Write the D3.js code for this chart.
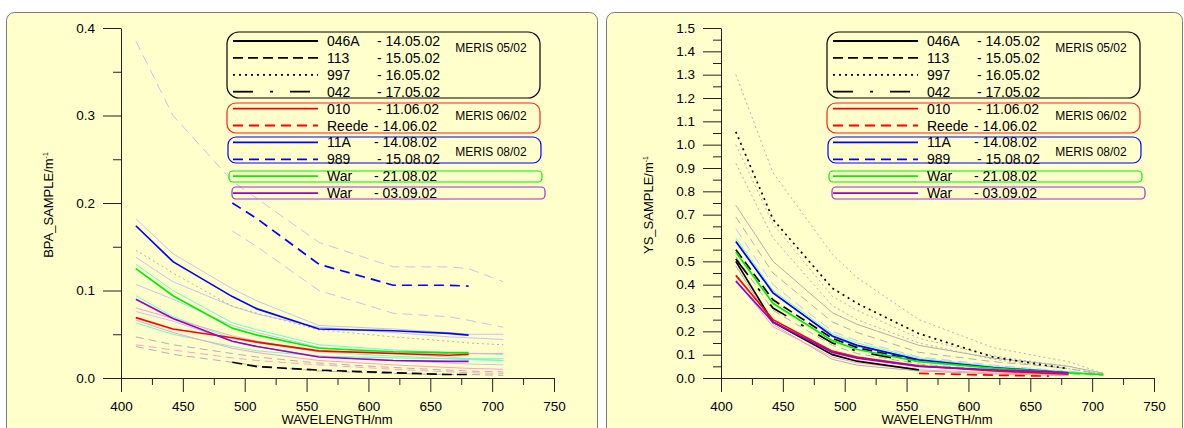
<!DOCTYPE html>
<meta charset="utf-8">
<script src="https://d3js.org/d3.v7.min.js"></script>
<style>
  body { margin: 0; background: #fff; }
  svg text { font-family: "Liberation Sans", Arial, sans-serif; }
</style>
<div id="chart"></div>
<script>

  // MERIS bands (nm)
  var bands = [412, 442, 490, 510, 560, 620, 665, 681, 709];

  // ---- BPA panel (left) ----
  var bpa_046A  = [null, null, null, null, null, null, null, null, null];
  var bpa_113   = [null, null, 0.018, 0.013, 0.009, 0.006, 0.004, 0.004, null];
  var bpa_997   = [null, null, null, null, null, null, null, null, null];
  var bpa_042   = [null, null, null, null, null, null, null, null, null];
  var bpa_010   = [0.069, 0.056, 0.046, 0.041, 0.031, 0.028, 0.026, 0.027, null];
  var bpa_Reede = [null, null, null, null, null, null, null, null, null];
  var bpa_11A   = [0.174, 0.133, 0.093, 0.079, 0.056, 0.054, 0.051, 0.049, null];
  var bpa_989   = [null, null, 0.200, 0.182, 0.130, 0.106, 0.106, 0.105, null];
  var bpa_War1  = [0.125, 0.094, 0.057, 0.049, 0.034, 0.030, 0.029, 0.029, null];
  var bpa_War2  = [0.090, 0.068, 0.042, 0.036, 0.024, 0.020, 0.019, 0.019, null];

  // faint background spectra, left
  var bpaFaint = [
    [0.385, 0.300, 0.225, 0.205, 0.155, 0.127, 0.127, 0.125, 0.110],
    [null, null, 0.168, 0.150, 0.100, 0.074, 0.070, 0.066, 0.058],
    [0.182, 0.142, 0.102, 0.088, 0.060, 0.056, 0.052, 0.050, 0.050],
    [0.138, 0.110, 0.082, 0.073, 0.058, 0.052, 0.047, 0.046, 0.044],
    [0.146, 0.120, 0.082, 0.074, 0.055, 0.047, 0.042, 0.040, 0.038],
    [0.107, 0.090, 0.060, 0.052, 0.035, 0.028, 0.024, 0.022, 0.020],
    [0.130, 0.100, 0.063, 0.055, 0.038, 0.032, 0.029, 0.028, 0.027],
    [0.094, 0.070, 0.045, 0.040, 0.030, 0.025, 0.022, 0.021, 0.020],
    [0.063, 0.050, 0.036, 0.031, 0.025, 0.023, 0.022, 0.022, 0.022],
    [0.080, 0.068, 0.048, 0.042, 0.030, 0.029, 0.028, 0.028, 0.028],
    [0.066, 0.052, 0.034, 0.029, 0.020, 0.015, 0.012, 0.011, 0.010],
    [0.076, 0.065, 0.042, 0.036, 0.025, 0.020, 0.017, 0.016, 0.015],
    [0.038, 0.032, 0.023, 0.020, 0.015, 0.010, 0.007, 0.006, 0.005],
    [0.047, 0.038, 0.028, 0.024, 0.017, 0.012, 0.009, 0.008, 0.007],
    [0.036, 0.027, 0.018, 0.014, 0.008, 0.005, 0.004, 0.004, 0.003]
  ];
  var bpaFaintStyle = ["fBlueDash", "fBlueDash", "fBlue", "fBlue", "fGrayDot", "fBlue", "fAqua", "fAqua",
    "fAqua", "fPink", "fPink", "fBlue", "fPinkDash", "fGrayDash", "fGrayDash"];

  // ---- YS panel (right) ----
  var ys_046A  = [0.500, 0.240, 0.100, 0.072, 0.035, null, null, null, null];
  var ys_113   = [0.550, 0.335, 0.170, 0.130, 0.072, null, null, null, null];
  var ys_997   = [1.055, 0.680, 0.385, 0.320, 0.190, 0.090, 0.052, 0.040, null];
  var ys_042   = [0.510, 0.300, 0.150, 0.115, 0.065, null, null, null, null];
  var ys_010   = [0.440, 0.250, 0.115, 0.090, 0.052, 0.030, 0.020, 0.016, null];
  var ys_Reede = [null, null, null, null, 0.020, 0.012, 0.008, null, null];
  var ys_11A   = [0.585, 0.365, 0.180, 0.140, 0.078, 0.045, 0.028, 0.022, null];
  var ys_989   = [null, null, null, null, null, null, null, null, null];
  var ys_War1  = [0.540, 0.320, 0.160, 0.122, 0.070, 0.042, 0.027, 0.022, 0.015];
  var ys_War2  = [0.415, 0.240, 0.110, 0.085, 0.050, 0.035, 0.026, 0.022, null];

  var ysFaint = [
    [1.300, 0.880, 0.530, 0.430, 0.250, 0.130, 0.085, 0.070, 0.020],
    [1.000, 0.660, 0.350, 0.290, 0.170, 0.095, 0.060, 0.050, 0.015],
    [0.920, 0.600, 0.310, 0.250, 0.150, 0.080, 0.050, 0.040, 0.012],
    [0.740, 0.500, 0.280, 0.230, 0.140, 0.085, 0.060, 0.050, 0.020],
    [0.690, 0.450, 0.240, 0.195, 0.110, 0.070, 0.050, 0.040, 0.015],
    [0.640, 0.400, 0.200, 0.160, 0.090, 0.055, 0.035, 0.030, 0.012],
    [0.600, 0.375, 0.190, 0.150, 0.085, 0.050, 0.032, 0.027, 0.012],
    [0.590, 0.370, 0.175, 0.135, 0.075, 0.045, 0.030, 0.025, 0.012],
    [0.480, 0.230, 0.080, 0.055, 0.030, 0.018, 0.012, 0.010, null],
    [0.420, 0.220, 0.090, 0.065, 0.035, 0.022, 0.015, 0.012, null],
    [0.520, 0.290, 0.140, 0.105, 0.060, 0.035, 0.022, 0.018, 0.010]
  ];
  var ysFaintStyle = ["fGrayDot", "fGrayDot", "fGrayDot", "fGray", "fGrayDash", "fBlueDash", "fAqua", "fBlue",
    "fGray", "fPink", "fGrayDash"];

  // legend
  var legNames = ["046A", "113", "997", "042", "010", "Reede", "11A", "989", "War", "War"];
  var legDates = ["- 14.05.02", "- 15.05.02", "- 16.05.02", "- 17.05.02", "- 11.06.02",
    "- 14.06.02", "- 14.08.02", "- 15.08.02", "- 21.08.02", "- 03.09.02"];
  var legKeys = ["k046A", "k113", "k997", "k042", "r010", "rReede", "b11A", "b989", "gWar", "pWar"];
  var groupLabels = ["MERIS 05/02", "MERIS 06/02", "MERIS 08/02"];

  var styles = {
    k046A:  { c: "#000", w: 1.7, d: null },
    k113:   { c: "#000", w: 1.7, d: "10,5" },
    k997:   { c: "#000", w: 1.7, d: "2,4" },
    k042:   { c: "#000", w: 1.7, d: "20,17,3,17" },
    r010:   { c: "#ff0000", w: 1.7, d: null },
    rReede: { c: "#ff0000", w: 1.7, d: "10,6" },
    b11A:   { c: "#0000ff", w: 1.7, d: null },
    b989:   { c: "#0000ff", w: 1.7, d: "10,6" },
    gWar:   { c: "#00ee00", w: 1.7, d: null },
    pWar:   { c: "#9900cc", w: 1.7, d: null },
    fBlue:     { c: "#c4c4f2", w: 1, d: null },
    fBlueDash: { c: "#c4c4f2", w: 1, d: "10,6" },
    fAqua:     { c: "#66ffcc", w: 1, d: null },
    fPink:     { c: "#ff9ec8", w: 1, d: null },
    fPinkDash: { c: "#ff9ec8", w: 1, d: "8,5" },
    fGray:     { c: "#b0b0b0", w: 1, d: null },
    fGrayDash: { c: "#b0b0b0", w: 1, d: "8,5" },
    fGrayDot:  { c: "#b0b0b0", w: 1, d: "2,3" }
  };

  var W = 1184, H = 428;
  var svg = d3.select("#chart").append("svg")
    .attr("width", W).attr("height", H);

  function panel(px, pw, yMax, yTitle, main, faint, faintStyle) {
    var g = svg.append("g").attr("transform", "translate(" + px + ",0)");

    g.append("rect")
      .attr("x", 6.5).attr("y", 12.5).attr("width", pw).attr("height", 430)
      .attr("rx", 8)
      .attr("fill", "#ffffcc").attr("stroke", "#7a7a7a").attr("stroke-width", 1);

    var x = d3.scaleLinear().domain([400, 750]).range([121, 554]);
    var y = d3.scaleLinear().domain([0, yMax]).range([378, 28]);

    // minor + major ticks
    var xMinor = d3.range(425, 750, 50);
    var yMinor = d3.range(0.05, yMax, 0.1);

    g.append("g").attr("transform", "translate(0,378)")
      .call(d3.axisBottom(x).tickValues(xMinor).tickSize(7).tickFormat(""))
      .call(function (a) { a.select(".domain").remove(); });
    g.append("g").attr("class", "xax").attr("transform", "translate(0,378)")
      .call(d3.axisBottom(x).tickValues(d3.range(400, 751, 50)).tickSize(14).tickSizeOuter(0).tickPadding(9));

    g.append("g").attr("transform", "translate(121,0)")
      .call(d3.axisLeft(y).tickValues(yMinor).tickSize(8).tickFormat(""))
      .call(function (a) { a.select(".domain").remove(); });
    g.append("g").attr("class", "yax").attr("transform", "translate(121,0)")
      .call(d3.axisLeft(y).tickValues(d3.range(0, yMax + 0.001, 0.1)).tickSize(18).tickSizeOuter(0)
        .tickPadding(8).tickFormat(d3.format(".1f")));

    g.selectAll(".domain, .tick line").attr("stroke", "#222");
    g.selectAll(".tick text").attr("font-size", 13.5).attr("fill", "#000")
      .attr("font-family", "Liberation Sans, Arial, sans-serif");

    g.append("text").attr("x", 337).attr("y", 424).attr("text-anchor", "middle")
      .attr("font-size", 13).text("WAVELENGTH/nm");
    var yt = g.append("text").attr("transform", "translate(53,205) rotate(-90)")
      .attr("text-anchor", "middle").attr("font-size", 13).text(yTitle);
    yt.append("tspan").attr("dy", -5).attr("font-size", 7).text("-1");

    var line = d3.line()
      .defined(function (d) { return d[1] != null; })
      .x(function (d) { return x(d[0]); })
      .y(function (d) { return y(d[1]); });

    function draw(vals, key) {
      var s = styles[key];
      g.append("path")
        .datum(bands.map(function (b, i) { return [b, vals[i]]; }))
        .attr("d", line).attr("fill", "none")
        .attr("stroke", s.c).attr("stroke-width", s.w)
        .attr("stroke-dasharray", s.d);
    }

    faint.forEach(function (v, i) { draw(v, faintStyle[i]); });
    main.forEach(function (v, i) { draw(v, legKeys[i]); });

    // legend
    var rowY = function (i) { return 41 + i * 16.9; };
    var boxes = [
      { x0: 227, x1: 540, y0: 32, y1: 98, c: "#000", r: 12 },
      { x0: 227, x1: 540, y0: 103, y1: 133, c: "#ff2020", r: 9 },
      { x0: 228, x1: 541, y0: 137, y1: 163, c: "#0000ff", r: 8 },
      { x0: 229, x1: 542, y0: 171, y1: 182, c: "#00ee00", r: 4 },
      { x0: 232, x1: 545, y0: 187, y1: 199, c: "#a030d0", r: 4 }
    ];
    boxes.forEach(function (b) {
      g.append("rect").attr("x", b.x0).attr("y", b.y0)
        .attr("width", b.x1 - b.x0).attr("height", b.y1 - b.y0)
        .attr("rx", b.r).attr("fill", "none").attr("stroke", b.c).attr("stroke-width", 1.2);
    });

    legKeys.forEach(function (k, i) {
      var s = styles[k];
      g.append("line").attr("x1", 233).attr("x2", 318)
        .attr("y1", rowY(i)).attr("y2", rowY(i))
        .attr("stroke", s.c).attr("stroke-width", 1.8).attr("stroke-dasharray", s.d);
      g.append("text").attr("x", 327).attr("y", rowY(i) + 5)
        .attr("font-size", 14).text(legNames[i]);
      g.append("text").attr("x", k == "rReede" || k == "b11A" || k == "gWar" || k == "pWar" ? 374 : 377)
        .attr("y", rowY(i) + 5).attr("font-size", 14).text(legDates[i]);
    });

    [48, 116, 152].forEach(function (yy, i) {
      g.append("text").attr("x", 491).attr("y", yy + 4).attr("text-anchor", "middle")
        .attr("font-size", 12).text(groupLabels[i]);
    });
  }

  panel(0, 591, 0.4, "BPA_SAMPLE/m",
    [bpa_046A, bpa_113, bpa_997, bpa_042, bpa_010, bpa_Reede, bpa_11A, bpa_989, bpa_War1, bpa_War2],
    bpaFaint, bpaFaintStyle);

  panel(600, 576, 1.5, "YS_SAMPLE/m",
    [ys_046A, ys_113, ys_997, ys_042, ys_010, ys_Reede, ys_11A, ys_989, ys_War1, ys_War2],
    ysFaint, ysFaintStyle);

</script>
